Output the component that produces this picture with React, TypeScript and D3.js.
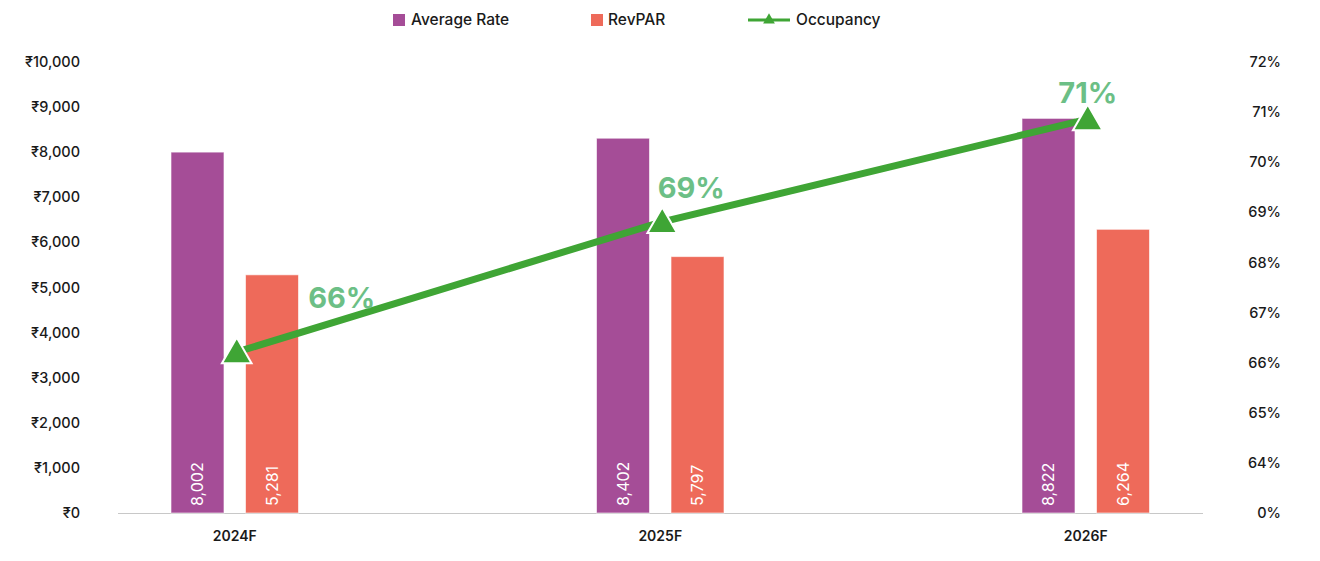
import React, { useEffect, useRef } from 'react';
import * as d3 from 'd3';

// chart data (bar heights as drawn, labels as printed)
const categories = ['2024F', '2025F', '2026F'];
const averageRate = [8002, 8310, 8750];
const averageRateLabels = ['8,002', '8,402', '8,822'];
const revPAR = [5281, 5685, 6290];
const revPARLabels = ['5,281', '5,797', '6,264'];
const occupancy = [66.2, 68.8, 70.85];
const occupancyLabels = ['66%', '69%', '71%'];
const leftTicks = [0, 1000, 2000, 3000, 4000, 5000, 6000, 7000, 8000, 9000, 10000];
const rightTickValues = [63, 64, 65, 66, 67, 68, 69, 70, 71, 72];
const rightTickLabels = ['0%', '64%', '65%', '66%', '67%', '68%', '69%', '70%', '71%', '72%'];

const PURPLE = '#a54d97';
const CORAL = '#ee6a5a';
const GREEN = '#3fa535';
const LABEL_GREEN = '#6cbf86';
const FONT = 'Inter, "Noto Sans", "DejaVu Sans", sans-serif';

// where the occupancy labels sit relative to their point
const labelOffsets = [
  { dx: 107, dy: -55 },
  { dx: 31, dy: -35 },
  { dx: 2, dy: -27 },
];

const App = () => {
  const chartRef = useRef<SVGSVGElement>(null);

  useEffect(() => {
    const svg = d3.select(chartRef.current);
    svg.selectAll('*').remove();

    const top = 62;
    const bottom = 513;

    const x = d3.scaleBand().domain(categories).range([22, 1298.5]);
    const series = ['Average Rate', 'RevPAR'];
    const x1 = d3.scaleBand().domain(series).range([-63.75, 63.75]).paddingInner(0.289);
    const y = d3.scaleLinear().domain([0, 10000]).range([bottom, top]);
    const y2 = d3.scaleLinear().domain([63, 72]).range([bottom, top]);
    const cx = (c: string) => (x(c) as number) + x.bandwidth() / 2;

    // left axis labels
    svg.append('g')
      .selectAll('text')
      .data(leftTicks)
      .enter().append('text')
      .attr('x', 80)
      .attr('y', d => y(d))
      .attr('dy', '0.35em')
      .attr('text-anchor', 'end')
      .attr('font-size', 14.5)
      .attr('font-weight', 500)
      .attr('fill', '#1a1a1a')
      .text(d => '₹' + d3.format(',')(d));

    // right axis labels
    svg.append('g')
      .selectAll('text')
      .data(rightTickValues)
      .enter().append('text')
      .attr('x', 1281)
      .attr('y', d => y2(d))
      .attr('dy', '0.35em')
      .attr('text-anchor', 'end')
      .attr('font-size', 14.5)
      .attr('font-weight', 500)
      .attr('fill', '#1a1a1a')
      .text((d, i) => rightTickLabels[i]);

    // baseline
    svg.append('line')
      .attr('x1', 118).attr('x2', 1203)
      .attr('y1', bottom + 0.5).attr('y2', bottom + 0.5)
      .attr('stroke', '#c8c8c8')
      .attr('stroke-width', 1);

    // category labels
    svg.append('g')
      .selectAll('text')
      .data(categories)
      .enter().append('text')
      .attr('x', d => cx(d))
      .attr('y', 536)
      .attr('dy', '0.35em')
      .attr('text-anchor', 'middle')
      .attr('font-size', 14)
      .attr('font-weight', 600)
      .attr('fill', '#1a1a1a')
      .text(d => d);

    // bars
    const barData = categories.flatMap((c, i) => [
      { c, s: series[0], v: averageRate[i], label: averageRateLabels[i], color: PURPLE },
      { c, s: series[1], v: revPAR[i], label: revPARLabels[i], color: CORAL },
    ]);
    const bars = svg.append('g');
    bars.selectAll('rect')
      .data(barData)
      .enter().append('rect')
      .attr('x', d => cx(d.c) + (x1(d.s) as number))
      .attr('y', d => y(d.v))
      .attr('width', x1.bandwidth())
      .attr('height', d => bottom - y(d.v))
      .attr('fill', d => d.color)
      .attr('stroke', 'rgba(255,255,255,0.6)')
      .attr('stroke-width', 1);

    bars.selectAll('text')
      .data(barData)
      .enter().append('text')
      .attr('transform', d => `translate(${cx(d.c) + (x1(d.s) as number) + x1.bandwidth() / 2}, ${bottom - 7}) rotate(-90)`)
      .attr('dy', '0.35em')
      .attr('text-anchor', 'start')
      .attr('font-size', 16)
      .attr('fill', '#ffffff')
      .text(d => d.label);

    // occupancy line
    const pts = categories.map((c, i) => [cx(c), y2(occupancy[i])] as [number, number]);
    svg.append('path')
      .attr('d', d3.line()(pts))
      .attr('fill', 'none')
      .attr('stroke', GREEN)
      .attr('stroke-width', 7);

    const tri = d3.symbol().type(d3.symbolTriangle).size(380);
    svg.append('g')
      .selectAll('path')
      .data(pts)
      .enter().append('path')
      .attr('transform', d => `translate(${d[0] + 2}, ${d[1] + 2})`)
      .attr('d', tri())
      .attr('fill', GREEN)
      .attr('stroke', '#ffffff')
      .attr('stroke-width', 2);

    svg.append('g')
      .selectAll('text')
      .data(pts)
      .enter().append('text')
      .attr('x', (d, i) => d[0] + labelOffsets[i].dx)
      .attr('y', (d, i) => d[1] + labelOffsets[i].dy)
      .attr('dy', '0.35em')
      .attr('text-anchor', 'middle')
      .attr('font-size', 29)
      .attr('font-weight', 700)
      .attr('fill', LABEL_GREEN)
      .text((d, i) => occupancyLabels[i]);

    // legend
    const legend = svg.append('g').attr('font-size', 15.5).attr('font-weight', 500).attr('fill', '#1a1a1a');
    legend.append('rect').attr('x', 393).attr('y', 14).attr('width', 12).attr('height', 12).attr('fill', PURPLE);
    legend.append('text').attr('x', 411).attr('y', 20).attr('dy', '0.35em').text('Average Rate');
    legend.append('rect').attr('x', 591).attr('y', 14).attr('width', 12).attr('height', 12).attr('fill', CORAL);
    legend.append('text').attr('x', 608).attr('y', 20).attr('dy', '0.35em').text('RevPAR');
    legend.append('line').attr('x1', 748).attr('x2', 790).attr('y1', 20).attr('y2', 20)
      .attr('stroke', GREEN).attr('stroke-width', 3);
    legend.append('path').attr('transform', 'translate(769, 20)')
      .attr('d', d3.symbol().type(d3.symbolTriangle).size(60)())
      .attr('fill', GREEN);
    legend.append('text').attr('x', 796).attr('y', 20).attr('dy', '0.35em').text('Occupancy');
  }, []);

  return (
    <svg
      ref={chartRef}
      width={1320}
      height={561}
      style={{ position: 'absolute', left: 0, top: 0, fontFamily: FONT, background: '#fff' }}
    />
  );
};

export default App;
